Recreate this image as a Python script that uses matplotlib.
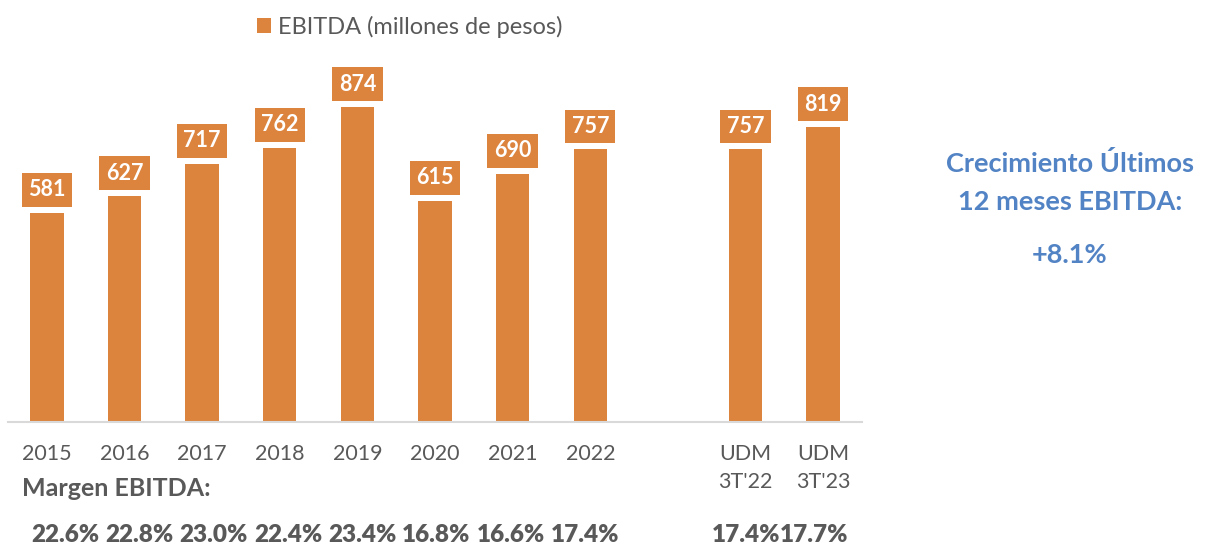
import matplotlib.pyplot as plt
import numpy as np

# data
categories = ["2015", "2016", "2017", "2018", "2019", "2020", "2021", "2022", "",
              "UDM\n3T'22", "UDM\n3T'23"]
ebitda = [581, 627, 717, 762, 874, 615, 690, 757, None, 757, 819]
margins = ["22.6%", "22.8%", "23.0%", "22.4%", "23.4%", "16.8%", "16.6%", "17.4%",
           "17.4%", "17.7%"]

orange = "#DC843E"
gray = "#595959"
blue = "#5283C4"

plt.rcParams["font.family"] = ["Lato", "DejaVu Sans"]

W, H = 1211, 545
fig = plt.figure(figsize=(W / 100, H / 100), dpi=100)
# axes placed in pixel terms: x 8..862, baseline at y=422
ax = fig.add_axes([8 / W, 1 - 422 / H, (862 - 8) / W, 360 / H])

x = np.arange(len(categories))
vals = [v if v is not None else 0 for v in ebitda]
mask = [v is not None for v in ebitda]
bars = ax.bar(x[mask], np.array(vals)[mask], width=0.43, color=orange,
              label="EBITDA (millones de pesos)", zorder=2)

ax.set_xlim(-0.5, len(categories) - 0.5)
ax.set_ylim(0, 1000)

for xi, v in zip(x, ebitda):
    if v is None:
        continue
    ax.annotate(str(v), (xi, v), xytext=(0, 23), textcoords="offset pixels",
                ha="center", va="center", fontsize=15.5, fontweight="bold", color="white",
                bbox=dict(boxstyle="square,pad=0.3", fc=orange, ec="none"), zorder=3)

for s in ["top", "right", "left"]:
    ax.spines[s].set_visible(False)
ax.spines["bottom"].set_color("#D9D9D9")
ax.spines["bottom"].set_linewidth(1.5)
ax.set_yticks([])
ax.set_xticks(x)
ax.set_xticklabels(categories, fontsize=15.5, color=gray, linespacing=1.5, va="top")
ax.tick_params(axis="x", length=0, pad=16)

# margin row (a separate text row, its own spacing in the original)
fig.text(22 / W, 1 - 489 / H, "Margen EBITDA:", fontsize=18, fontweight="bold",
         color=gray, ha="left", va="center")
margin_px = list(65 + 74.3 * np.arange(8)) + [746, 814]
for px, m in zip(margin_px, margins):
    fig.text(px / W, 1 - 535 / H, m, ha="center", va="center", fontsize=17.5,
             fontweight="heavy", color=gray)

leg = fig.legend(handles=[bars], loc="center", bbox_to_anchor=(410 / W, 1 - 27 / H),
                 frameon=False, fontsize=17, handlelength=0.6, handleheight=0.6,
                 handletextpad=0.3, labelcolor=gray)

# side note
fig.text(1070 / W, 1 - 163 / H, "Crecimiento Últimos", fontsize=19.5, fontweight="bold",
         color=blue, ha="center", va="center")
fig.text(1070 / W, 1 - 202 / H, "12 meses EBITDA:", fontsize=19.5, fontweight="bold",
         color=blue, ha="center", va="center")
fig.text(1070 / W, 1 - 255 / H, "+8.1%", fontsize=19.5, fontweight="bold",
         color=blue, ha="center", va="center")

fig.savefig("out.png", dpi=100)
